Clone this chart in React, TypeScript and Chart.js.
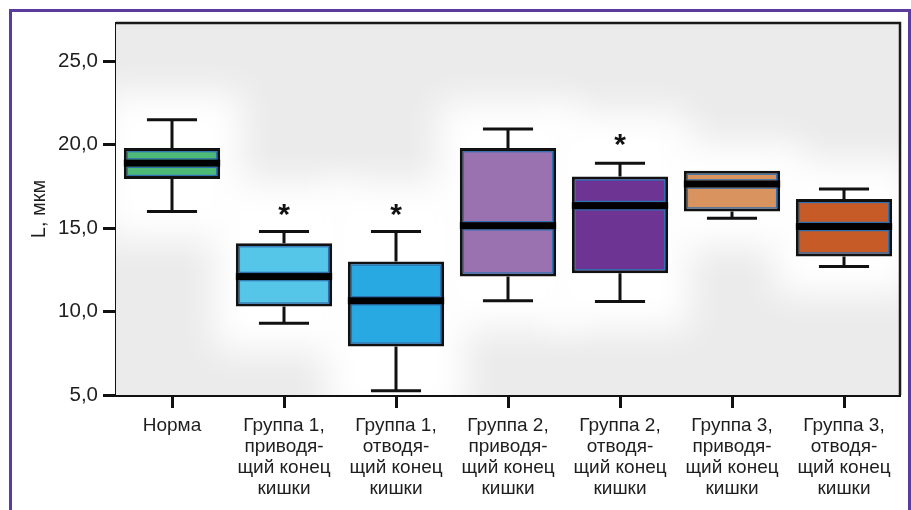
import React, { useEffect, useRef } from "react";
import { Chart, registerables } from "chart.js";

Chart.register(...registerables);

const CATEGORIES: string[][] = [
  ["Норма"],
  ["Группа 1,", "приводя-", "щий конец", "кишки"],
  ["Группа 1,", "отводя-", "щий конец", "кишки"],
  ["Группа 2,", "приводя-", "щий конец", "кишки"],
  ["Группа 2,", "отводя-", "щий конец", "кишки"],
  ["Группа 3,", "приводя-", "щий конец", "кишки"],
  ["Группа 3,", "отводя-", "щий конец", "кишки"],
];
const MIN_VALUES = [16.0, 9.3, 5.25, 10.65, 10.6, 15.6, 12.7];
const Q1_VALUES = [17.95, 10.3, 7.9, 12.1, 12.3, 16.0, 13.3];
const MEDIAN_VALUES = [18.9, 12.1, 10.65, 15.15, 16.35, 17.65, 15.1];
const Q3_VALUES = [19.8, 14.1, 13.0, 19.8, 18.1, 18.45, 16.75];
const MAX_VALUES = [21.5, 14.8, 14.8, 20.95, 18.9, 18.45, 17.35];
const MARK_VALUES: (number | null)[] = [null, 16.1, 16.1, null, 20.3, null, null];
const BOX_COLORS = ["#4dba78", "#55c5e8", "#29a9e1", "#9a72b0", "#6d3493", "#d8935e", "#c75b28"];
const Y_TICKS = [5, 10, 15, 20, 25];
const Y_MIN = 5;
const Y_MAX = 27.3;
const Y_TITLE = "L, мкм";

const FONT = "'Liberation Sans', Arial, sans-serif";

const boxPlugin = {
  id: "boxExtras",
  beforeDatasetsDraw(chart: any) {
    const { ctx, chartArea: a, scales } = chart;
    const y = scales.y;
    const meta = chart.getDatasetMeta(0);
    ctx.save();
    ctx.fillStyle = "#ebebeb";
    ctx.fillRect(a.left, a.top, a.right - a.left, a.bottom - a.top);
    ctx.beginPath();
    ctx.rect(a.left, a.top, a.right - a.left, a.bottom - a.top);
    ctx.clip();
    ctx.filter = "blur(18px)";
    ctx.fillStyle = "#ffffff";
    meta.data.forEach((bar: any, i: number) => {
      const w = bar.width;
      const topV = Math.max(MAX_VALUES[i], MARK_VALUES[i] ?? 0);
      const top = y.getPixelForValue(topV);
      const bottom = y.getPixelForValue(MIN_VALUES[i]);
      ctx.fillRect(bar.x - w / 2 - 22, top - 28, w + 44, bottom - top + 56);
    });
    ctx.restore();
  },
  afterDatasetsDraw(chart: any) {
    const { ctx, scales } = chart;
    const y = scales.y;
    const meta = chart.getDatasetMeta(0);
    ctx.save();
    meta.data.forEach((bar: any, i: number) => {
      const cx = bar.x;
      const w = bar.width;
      const l = cx - w / 2;
      const r = cx + w / 2;
      const pq1 = y.getPixelForValue(Q1_VALUES[i]);
      const pq3 = y.getPixelForValue(Q3_VALUES[i]);
      const pmed = y.getPixelForValue(MEDIAN_VALUES[i]);
      const pmin = y.getPixelForValue(MIN_VALUES[i]);
      const pmax = y.getPixelForValue(MAX_VALUES[i]);
      // inner blue outline
      ctx.strokeStyle = "#2f6fb0";
      ctx.lineWidth = 1.2;
      ctx.strokeRect(l + 3.6, pq3 + 3.6, w - 7.2, pq1 - pq3 - 7.2);
      // median with blue edges
      ctx.beginPath();
      ctx.moveTo(l + 3, pmed - 4.2);
      ctx.lineTo(r - 3, pmed - 4.2);
      ctx.moveTo(l + 3, pmed + 4.2);
      ctx.lineTo(r - 3, pmed + 4.2);
      ctx.stroke();
      ctx.fillStyle = "#000";
      ctx.fillRect(l, pmed - 3.5, w, 7);
      // whiskers
      ctx.strokeStyle = "#111";
      ctx.lineWidth = 3;
      const cap = w * 0.26;
      ctx.beginPath();
      if (pmax < pq3 - 0.5) {
        ctx.moveTo(cx, pq3);
        ctx.lineTo(cx, pmax);
        ctx.moveTo(cx - cap, pmax);
        ctx.lineTo(cx + cap, pmax);
      }
      if (pmin > pq1 + 0.5) {
        ctx.moveTo(cx, pq1);
        ctx.lineTo(cx, pmin);
        ctx.moveTo(cx - cap, pmin);
        ctx.lineTo(cx + cap, pmin);
      }
      ctx.stroke();
      // significance marks
      const mv = MARK_VALUES[i];
      if (mv !== null) {
        ctx.fillStyle = "#111";
        ctx.font = `bold 30px ${FONT}`;
        ctx.textAlign = "center";
        ctx.textBaseline = "alphabetic";
        const m = ctx.measureText("*");
        const py = y.getPixelForValue(mv);
        ctx.fillText("*", cx, py + (m.actualBoundingBoxAscent - m.actualBoundingBoxDescent) / 2);
      }
    });
    ctx.restore();
  },
  afterDraw(chart: any) {
    const { ctx, chartArea: a } = chart;
    ctx.save();
    ctx.strokeStyle = "#1a1a1a";
    ctx.lineWidth = 2.5;
    ctx.beginPath();
    ctx.moveTo(a.left, a.top);
    ctx.lineTo(a.right, a.top);
    ctx.lineTo(a.right, a.bottom);
    ctx.stroke();
    ctx.restore();
  },
};

export default function App() {
  const ref = useRef<HTMLCanvasElement | null>(null);
  useEffect(() => {
    if (!ref.current) return;
    const chart = new Chart(ref.current, {
      type: "bar",
      data: {
        labels: CATEGORIES,
        datasets: [
          {
            data: Q1_VALUES.map((q1, i) => [q1, Q3_VALUES[i]]) as any,
            backgroundColor: BOX_COLORS,
            borderColor: "#111",
            borderWidth: 3,
            borderSkipped: false,
            barPercentage: 0.86,
            categoryPercentage: 1,
          },
        ],
      },
      options: {
        responsive: false,
        animation: false,
        events: [],
        layout: { padding: { left: 0, top: 23, right: 11, bottom: 0 } },
        plugins: { legend: { display: false }, tooltip: { enabled: false }, title: { display: false } },
        scales: {
          x: {
            offset: true,
            grid: {
              offset: false,
              drawOnChartArea: false,
              drawTicks: true,
              tickLength: 13,
              tickWidth: 3,
              tickColor: "#111",
            },
            border: { display: true, color: "#111", width: 3 },
            ticks: {
              color: "#1e1e1e",
              font: { family: FONT, size: 19, lineHeight: "21px" } as any,
              padding: 7,
              maxRotation: 0,
              autoSkip: false,
            },
            afterFit: (s: any) => {
              s.height = 115;
            },
          },
          y: {
            min: Y_MIN,
            max: Y_MAX,
            grid: {
              drawOnChartArea: false,
              drawTicks: true,
              tickLength: 13,
              tickWidth: 3,
              tickColor: "#111",
            },
            border: { display: true, color: "#111", width: 3 },
            ticks: {
              color: "#1e1e1e",
              font: { family: FONT, size: 20.5 },
              padding: 5,
              callback: (v: any) => Number(v).toFixed(1).replace(".", ","),
            },
            afterBuildTicks: (s: any) => {
              s.ticks = Y_TICKS.map((v) => ({ value: v }));
            },
            afterFit: (s: any) => {
              s.width = 116;
            },
            title: {
              display: true,
              text: Y_TITLE,
              color: "#1e1e1e",
              font: { family: FONT, size: 20 },
              padding: { top: 27, bottom: 0 },
            },
          },
        },
      },
      plugins: [boxPlugin],
    });
    return () => chart.destroy();
  }, []);

  return (
    <div style={{ position: "fixed", left: 0, top: 0, width: 911, height: 510, overflow: "hidden", background: "#fff" }}>
      <canvas ref={ref} width={911} height={510} style={{ position: "absolute", left: 0, top: 0, width: 911, height: 510 }} />
      <div
        style={{
          position: "absolute",
          left: 9,
          top: 9,
          width: 896,
          height: 540,
          border: "3px solid #5b3b9c",
          pointerEvents: "none",
        }}
      />
    </div>
  );
}
